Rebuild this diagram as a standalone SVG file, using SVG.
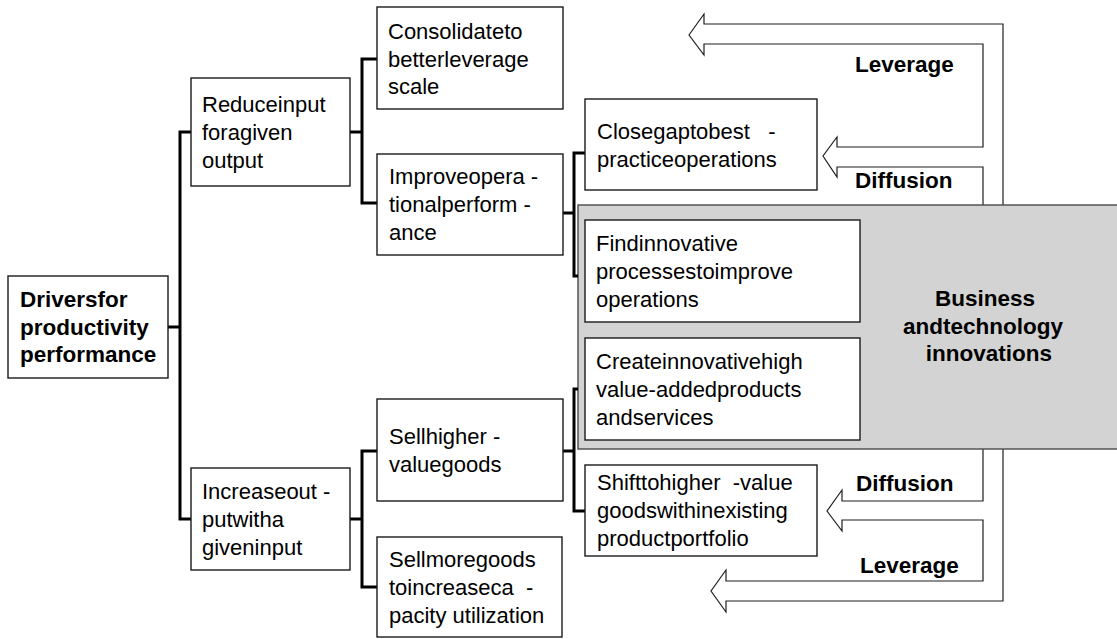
<svg xmlns="http://www.w3.org/2000/svg" width="1117" height="639" viewBox="0 0 1117 639">
  <style>
    .box { fill: #ffffff; stroke: #1a1a1a; stroke-width: 1.4; }
    .band { fill: #d3d3d3; stroke: #4a4a4a; stroke-width: 1.4; }
    .pipe { fill: #ffffff; stroke: #1e1e1e; stroke-width: 1.2; stroke-linejoin: miter; }
    .wire { fill: none; stroke: #000000; stroke-width: 3; stroke-linejoin: miter; }
    .t { font-family: "Liberation Sans", Arial, sans-serif; font-size: 22px; fill: #000000; white-space: pre; }
    .b { font-family: "Liberation Sans", Arial, sans-serif; font-size: 22.5px; font-weight: bold; fill: #000000; white-space: pre; }
  </style>

  <!-- hollow feedback arrows (Leverage / Diffusion) -->
  <g id="feedback-arrows">
    <path class="pipe" d="M689,35 L704,14 L704,24 L1003,24 L1003,601 L726,601 L726,612 L711,591 L726,570 L726,581 L983,581 L983,520 L842,520 L842,531 L827,511 L842,490 L842,501 L983,501 L983,167 L837,167 L837,177 L823,156 L837,137 L837,147 L983,147 L983,44 L704,44 L704,55 Z"/>
    <text class="b" x="855" y="72">Leverage</text>
    <text class="b" x="855" y="188">Diffusion</text>
    <text class="b" x="856" y="491">Diffusion</text>
    <text class="b" x="860" y="573">Leverage</text>
  </g>

  <!-- innovation band -->
  <g id="innovations">
    <rect class="band" x="578" y="205" width="545" height="244"/>
    <text class="b" x="985" y="306" text-anchor="middle">Business</text>
    <text class="b" x="983" y="334" text-anchor="middle">andtechnology</text>
    <text class="b" x="989" y="361" text-anchor="middle">innovations</text>
  </g>

  <!-- tree connectors -->
  <g id="connectors">
    <path class="wire" d="M168,327 H180"/>
    <path class="wire" d="M191,132 H180 V519 H191"/>
    <path class="wire" d="M350,132 H362"/>
    <path class="wire" d="M377,59 H362 V203 H377"/>
    <path class="wire" d="M350,519 H362"/>
    <path class="wire" d="M377,451 H362 V587 H377"/>
    <path class="wire" d="M563,213 H574"/>
    <path class="wire" d="M585,153 H574 V276 H578"/>
    <path class="wire" d="M563,451 H574"/>
    <path class="wire" d="M578,389 H574 V511 H585"/>
  </g>

  <g id="drivers">
    <rect class="box" x="8" y="276" width="160" height="102"/>
    <text class="b" x="20" y="307">Driversfor</text>
    <text class="b" x="20" y="335">productivity</text>
    <text class="b" x="20" y="362">performance</text>
  </g>

  <g id="reduce-input">
    <rect class="box" x="191" y="78" width="159" height="108"/>
    <text class="t" x="202" y="112">Reduceinput</text>
    <text class="t" x="202" y="140">foragiven</text>
    <text class="t" x="202" y="168">output</text>
  </g>

  <g id="increase-output">
    <rect class="box" x="191" y="468" width="159" height="102"/>
    <text class="t" x="202" y="499">Increaseout -</text>
    <text class="t" x="202" y="527">putwitha</text>
    <text class="t" x="202" y="555">giveninput</text>
  </g>

  <g id="consolidate">
    <rect class="box" x="377" y="7" width="186" height="102"/>
    <text class="t" x="388" y="39">Consolidateto</text>
    <text class="t" x="388" y="67">betterleverage</text>
    <text class="t" x="388" y="94">scale</text>
  </g>

  <g id="improve-operations">
    <rect class="box" x="377" y="154" width="186" height="101"/>
    <text class="t" x="389" y="184">Improveopera -</text>
    <text class="t" x="389" y="212">tionalperform -</text>
    <text class="t" x="389" y="240">ance</text>
  </g>

  <g id="sell-higher">
    <rect class="box" x="377" y="399" width="186" height="102"/>
    <text class="t" x="389" y="444">Sellhigher -</text>
    <text class="t" x="389" y="472">valuegoods</text>
  </g>

  <g id="sell-more">
    <rect class="box" x="377" y="537" width="185" height="100"/>
    <text class="t" x="389" y="567">Sellmoregoods</text>
    <text class="t" x="389" y="595">toincreaseca  -</text>
    <text class="t" x="389" y="623">pacity utilization</text>
  </g>

  <g id="close-gap">
    <rect class="box" x="585" y="99" width="232" height="91"/>
    <text class="t" x="597" y="139">Closegaptobest   -</text>
    <text class="t" x="597" y="167">practiceoperations</text>
  </g>

  <g id="find-processes">
    <rect class="box" x="585" y="220" width="275" height="102"/>
    <text class="t" x="596" y="251">Findinnovative</text>
    <text class="t" x="596" y="279">processestoimprove</text>
    <text class="t" x="596" y="307">operations</text>
  </g>

  <g id="create-products">
    <rect class="box" x="585" y="338" width="275" height="102"/>
    <text class="t" x="596" y="369">Createinnovativehigh</text>
    <text class="t" x="596" y="397">value-addedproducts</text>
    <text class="t" x="596" y="425">andservices</text>
  </g>

  <g id="shift-portfolio">
    <rect class="box" x="585" y="465" width="232" height="91"/>
    <text class="t" x="597" y="490">Shifttohigher  -value</text>
    <text class="t" x="597" y="518">goodswithinexisting</text>
    <text class="t" x="597" y="546">productportfolio</text>
  </g>
</svg>
